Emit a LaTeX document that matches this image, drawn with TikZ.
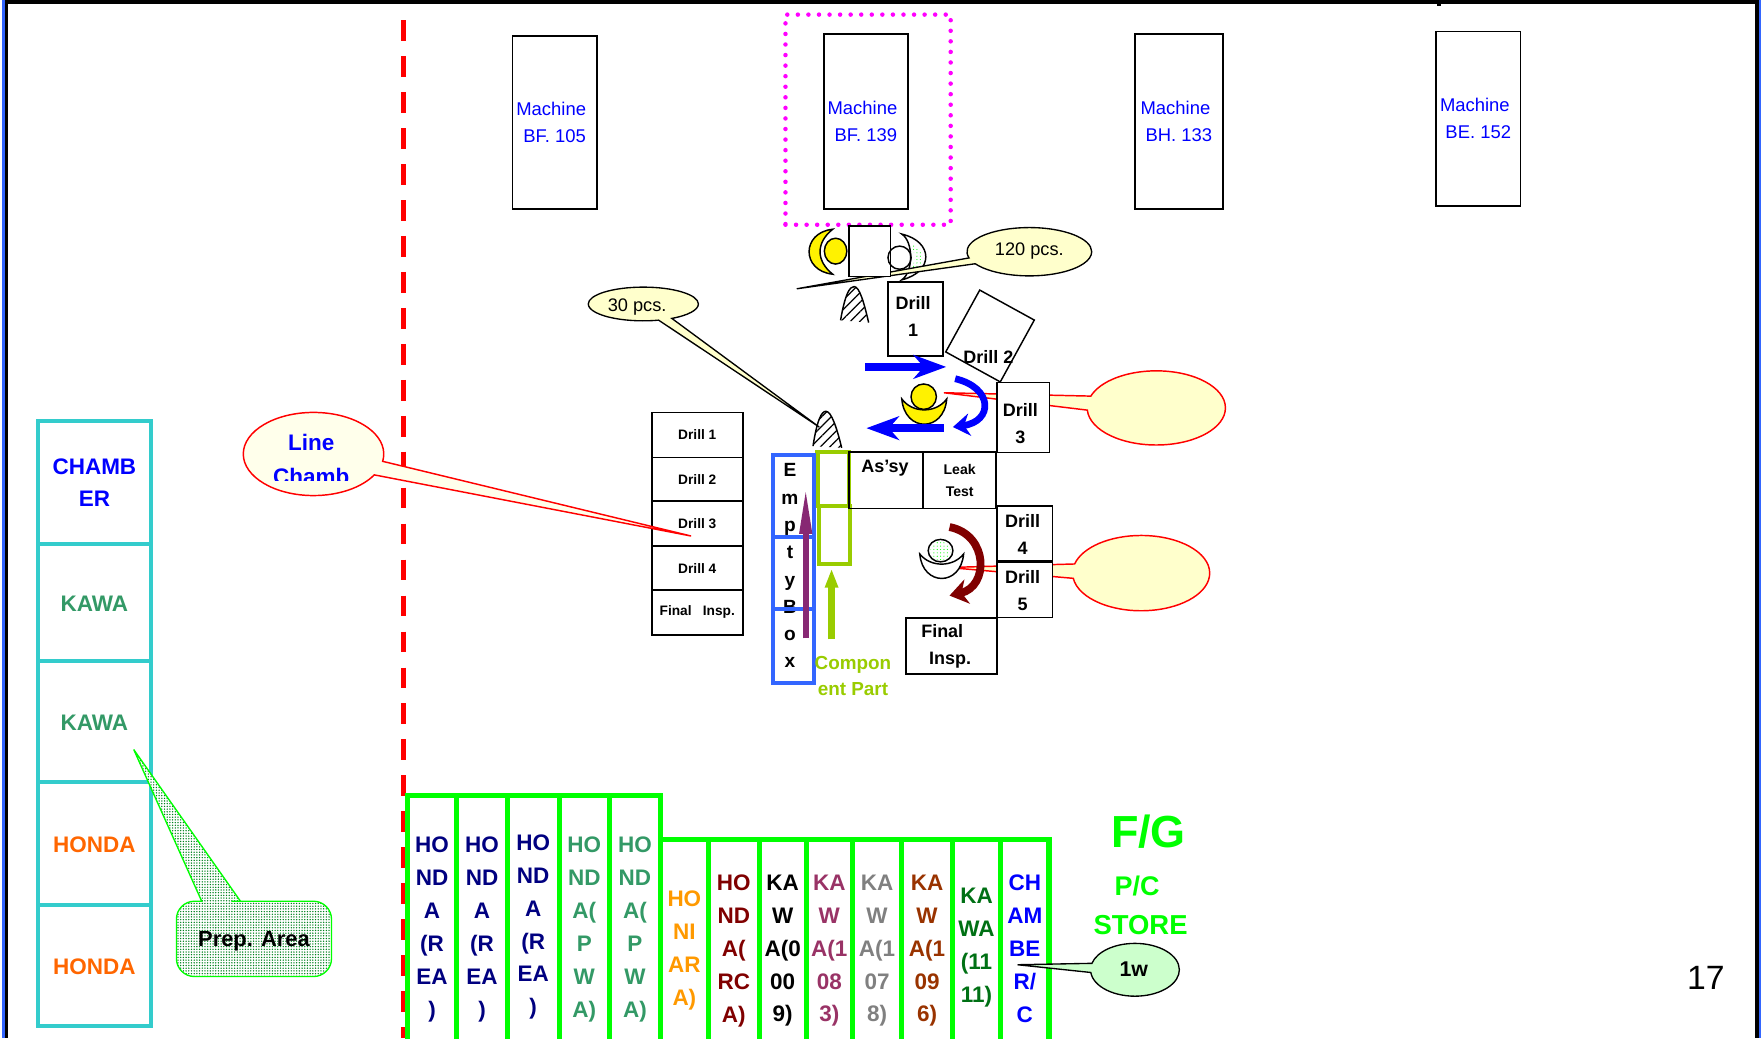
\documentclass[tikz,border=0pt]{standalone}
\usepackage{fontspec}
\setmainfont{Liberation Sans}
\usepackage{xcolor}
\usetikzlibrary{arrows.meta,positioning,calc,patterns,patterns.meta,shapes.callouts}
\definecolor{cblue}{RGB}{0,0,255}
\definecolor{cnavy}{RGB}{0,0,128}
\definecolor{csea}{RGB}{51,153,102}
\definecolor{corange}{RGB}{255,153,0}
\definecolor{chonda}{RGB}{255,102,0}
\definecolor{cmaroon}{RGB}{128,0,0}
\definecolor{cplum}{RGB}{153,51,102}
\definecolor{cgray}{RGB}{128,128,128}
\definecolor{cbrown}{RGB}{153,51,0}
\definecolor{cforest}{RGB}{0,112,20}
\definecolor{ccyan}{RGB}{51,204,204}
\definecolor{cbright}{RGB}{0,255,0}
\definecolor{colive}{RGB}{153,204,0}
\definecolor{cbox}{RGB}{51,102,255}
\definecolor{cred}{RGB}{255,0,0}
\definecolor{cmagenta}{RGB}{255,0,255}
\definecolor{cpale}{RGB}{255,255,204}
\definecolor{cfaint}{RGB}{255,255,235}
\definecolor{cmint}{RGB}{204,255,204}
\definecolor{cprep}{RGB}{0,130,30}
\definecolor{cflow}{RGB}{135,40,115}
\begin{document}
\begin{tikzpicture}[
    x=1pt,
    y=-1pt,
    >=Stealth,
    machine/.style={
        rectangle,
        draw=black,
        line width=1.6pt,
        minimum width=75pt,
        minimum height=155pt,
        inner sep=0pt,
        align=center,
        text=cblue,
        font=\fontsize{16.4}{23.5}\selectfont
    },
    cell/.style={
        rectangle,
        draw=black,
        fill=white,
        line width=1.5pt,
        inner sep=0pt,
        outer sep=0pt,
        align=center,
        font=\fontsize{16}{24}\selectfont\bfseries
    },
    celltext/.style={
        inner sep=0pt,
        align=center,
        font=\fontsize{16}{24}\selectfont\bfseries
    },
    listcell/.style={
        cell,
        minimum width=81pt,
        font=\fontsize{12.2}{14}\selectfont\bfseries
    },
    stackcell/.style={
        rectangle,
        draw=ccyan,
        line width=3.6pt,
        minimum width=100pt,
        inner sep=0pt,
        outer sep=0pt,
        align=center,
        text=#1,
        font=\fontsize{20}{29}\selectfont\bfseries
    },
    stacklabel/.style={
        text height=17pt
    },
    bay/.style={
        rectangle,
        draw=cbright,
        line width=4.5pt,
        anchor=north west,
        inner sep=0pt,
        outer sep=0pt,
        align=center,
        text=#1,
        font=\fontsize{20}{29.3}\selectfont\bfseries
    },
    boxcell/.style={
        rectangle,
        draw=cbox,
        line width=3.6pt,
        minimum width=36pt,
        inner sep=0pt,
        outer sep=0pt
    },
    partcell/.style={
        rectangle,
        draw=colive,
        line width=3.6pt,
        minimum width=28pt,
        inner sep=0pt,
        outer sep=0pt
    },
    pcscallout/.style={
        ellipse callout,
        draw=black,
        fill=cpale,
        line width=1.2pt,
        inner sep=0pt
    },
    pcstext/.style={
        inner sep=0pt,
        font=\fontsize{16.2}{20}\selectfont
    },
    redcallout/.style={
        ellipse callout,
        draw=cred,
        fill=cpale,
        line width=1.3pt,
        inner sep=0pt,
        callout pointer arc=22
    },
    outlined/.style={
        draw=black,
        line width=1.3pt
    },
    bigarr/.style={
        -{Stealth[length=29pt,width=21pt,inset=9pt]},
        line width=7pt,
        draw=cblue
    },
    bluearc/.style={
        -{Stealth[length=15pt,width=20pt,inset=5pt]},
        line width=6pt,
        draw=cblue
    },
    redarc/.style={
        -{Stealth[length=16pt,width=22pt,inset=5pt]},
        line width=7pt,
        draw=cmaroon
    },
    bright/.style={
        text=cbright,
        inner sep=0pt,
        align=center
    },
    hatchcone/.style={
        outlined,
        pattern={Lines[angle=45,distance=6pt,line width=1.1pt]}
    }
]

\clip (0,0) rectangle (1568,924);

% Outer frame
\fill[cbox] (1.8,0) rectangle (4.5,924);
\fill[black] (4.5,0) rectangle (7,924);
\fill[black] (4.5,0) rectangle (1565,3.5);
\fill[black] (1562,0) rectangle (1565,924);
\fill[cbox] (1565,0) rectangle (1567,924);
\fill[black] (1279,3) rectangle (1282,5);

% Boundary line
\coordinate (boundarytop) at (359,18);
\coordinate (boundarybottom) at (359,924);
\draw[cred, line width=4.6pt, dash pattern=on 18.5pt off 13.5pt] (boundarytop) -- (boundarybottom);

% Machines
\node[machine, minimum height=154pt] (machinea) at (493.5,109) {Machine\kern6pt\\BF. 105};
\node[machine, minimum height=156pt] (machineb) at (770.5,108) {Machine\kern6pt\\BF. 139};
\node[machine, minimum width=78pt, minimum height=156pt] (machinec) at (1049,108) {Machine\kern6pt\\BH. 133};
\node[machine, minimum height=155pt] (machined) at (1315.5,105.5) {Machine\kern6pt\\BE. 152};
\node[draw=cmagenta, line width=4pt, dash pattern=on 0pt off 9.4pt, line cap=round, minimum width=147pt, minimum height=187pt, inner sep=0pt] (focus) at (772.5,106.5) {};

% Left stack
\node[stackcell=cblue, minimum height=109pt] (stackchamber) at (84,429.5) {CHAMB\\ER};
\node[stackcell=csea, stacklabel, minimum height=104pt, below=0pt of stackchamber] (stackkawaa) {KAWA};
\node[stackcell=csea, stacklabel, minimum height=108pt, below=0pt of stackkawaa] (stackkawab) {KAWA};
\node[stackcell=chonda, stacklabel, minimum height=109pt, below=0pt of stackkawab] (stackhondaa) {HONDA};
\node[stackcell=chonda, stacklabel, minimum height=108pt, below=0pt of stackhondaa] (stackhondab) {HONDA};

% Prep area callout
\coordinate (preptip) at (119,667);
\filldraw[draw=cbright, line width=1.2pt, preaction={fill=white}, pattern={Dots[distance=2.4pt,radius=0.68pt]}, pattern color=cprep] (preptip) -- (179.5,802) -- (173,802) [rounded corners=16pt] -- (157,802) -- (157,869) -- (295,869) -- (295,802) -- (222,802) [sharp corners] -- (214,802) -- cycle;
\node[inner sep=0pt, font=\fontsize{19.5}{24}\selectfont\bfseries] (prep) at (226,837.5) {Prep. Area};

% Station list
\node[listcell, minimum height=40pt] (lista) at (620.5,387) {Drill 1};
\node[listcell, minimum height=39pt, below=0pt of lista] (listb) {Drill 2};
\node[listcell, minimum height=40pt, below=0pt of listb] (listc) {Drill 3};
\node[listcell, minimum height=39pt, below=0pt of listc] (listd) {Drill 4};
\node[listcell, minimum height=40pt, below=0pt of listd] (liste) {Final\hspace{10pt}Insp.};

% Line callout
\coordinate (linetip) at (615,477);
\node[redcallout, fill=cfaint, callout absolute pointer=(linetip), callout pointer arc=20, minimum width=125pt, minimum height=74pt] (linecallout) at (279,404) {};
\begin{scope}
\clip (217,370) rectangle (342,428);
\node[text=cblue, align=center, inner sep=0pt, font=\fontsize{20}{30}\selectfont\bfseries] (linetext) at (277,409) {Line\\Chamb};
\end{scope}

% Red callouts next to the stations
\coordinate (drilltip) at (840,349.5);
\node[redcallout, callout absolute pointer=(drilltip), minimum width=123pt, minimum height=66pt] (drillcallout) at (1029,363) {};
\coordinate (fivetip) at (844,505);
\node[redcallout, callout absolute pointer=(fivetip), minimum width=122pt, minimum height=67pt] (fivecallout) at (1015.5,510) {};

% Top worker
\filldraw[outlined, fill=yellow] (741,204) .. controls (713,207) and (713,241) .. (741,244) .. controls (726,232) and (726,216) .. cycle;
\filldraw[outlined, fill=yellow] (743.6,223.5) ellipse [x radius=10, y radius=11.5];
\filldraw[outlined, fill=white] (802.5,208.3) .. controls (831,215) and (831,242) .. (802.5,249) .. controls (813,242) and (813,215) .. cycle;
\fill[pattern=dots, pattern color=cbright] (807,216) .. controls (826,220) and (826,238) .. (807,243) .. controls (816,238) and (816,220) .. cycle;
\coordinate (pcstip) at (709,257);
\node[pcscallout, callout absolute pointer=(pcstip), minimum width=111pt, minimum height=43pt] (pcscalloutb) at (916,224) {};
\node[pcstext] (pcstextb) at (916,223) {120 pcs.};
\node[cell, line width=1.3pt, minimum width=37pt, minimum height=45pt] (worktable) at (774,223.5) {};
\draw[outlined] (800.5,229.3) ellipse [radius=10.3];

% Second pcs callout
\coordinate (conetip) at (729,380);
\node[pcscallout, callout absolute pointer=(conetip), minimum width=98pt, minimum height=30pt] (pcscallouta) at (572.5,270.5) {};
\node[pcstext] (pcstexta) at (567,273.5) {30 pcs.};

% Cones
\draw[hatchcone] (748,285) .. controls (752,262) and (756,255) .. (760,255) .. controls (765,255) and (769,270) .. (773,287);
\draw[hatchcone] (723.5,397) .. controls (727,374) and (731,366) .. (735,366) .. controls (740,366) and (745,382) .. (749,398.5);

% Upper stations
\node[cell, minimum width=49pt, minimum height=66pt] (drillone) at (814.5,284) {};
\node[celltext] (drillonetext) at (812.5,282) {Drill\\1};
\node[cell, fill=none, line width=1.3pt, rotate=-28.8, minimum width=55.4pt, minimum height=62.8pt] (drilltwo) at (881,299) {};
\node[celltext] (drilltwotext) at (879.5,318) {Drill 2};
\node[cell, minimum width=47pt, minimum height=62.5pt] (drillthree) at (910.5,371.5) {};
\node[celltext] (drillthreetext) at (908,377) {Drill\\3};

% Component part slots
\node[partcell, minimum height=48pt] (parta) at (741.5,426) {};
\node[partcell, minimum height=52pt, below=0pt of parta, xshift=1.2pt] (partb) {};

% Assembly row
\node[cell, fill=none, minimum width=66pt, minimum height=50pt] (assy) at (788.5,427.5) {};
\node[celltext] (assytext) at (787.5,417) {As's{}y};
\node[cell, font=\fontsize{12.5}{19.5}\selectfont\bfseries, minimum width=65pt, minimum height=50pt] (leak) at (854,427.5) {Leak\\Test};

% Lower stations
\node[cell, minimum width=49pt, minimum height=49pt] (drillfour) at (912,475) {};
\node[celltext] (drillfourtext) at (910,475.5) {Drill\\4};
\node[cell, minimum width=49pt, minimum height=49pt, below=1pt of drillfour] (drillfive) {};
\node[celltext] (drillfivetext) at (910,525.5) {Drill\\5};
\node[cell, minimum width=81pt, minimum height=50pt] (finalinsp) at (847,575) {};
\node[celltext] (finalinsptext) at (845.5,575) {Final\kern14pt\\Insp.};

% Workers beside the stations
\filldraw[outlined, fill=yellow] (822,353) circle [radius=11.3];
\filldraw[outlined, fill=yellow] (802.5,355) .. controls (805,385) and (840,385) .. (842.5,355) .. controls (833,368) and (812,368) .. cycle;
\filldraw[outlined, fill=white] (837,490) ellipse [x radius=11, y radius=10];
\fill[pattern=dots, pattern color=cbright] (837,490) ellipse [x radius=9, y radius=8.5];
\filldraw[outlined, fill=white] (818.5,493) .. controls (821,522) and (855,522) .. (857.5,493) .. controls (848,505) and (828,505) .. cycle;

% Flow arrows
\coordinate (flowa) at (770,326.5);
\coordinate (flowb) at (842,326.5);
\draw[bigarr] (flowa) -- (flowb);
\coordinate (flowc) at (850,337);
\coordinate (flowd) at (848,380);
\draw[bluearc] (flowc) .. controls (884,345) and (884,375) .. (flowd);
\coordinate (flowe) at (840,381);
\coordinate (flowf) at (771,381);
\draw[bigarr] (flowe) -- (flowf);
\coordinate (flowg) at (845,469);
\coordinate (flowh) at (845,530);
\draw[redarc] (flowg) .. controls (880,476) and (880,522) .. (flowh);

% Empty box
\node[text=black, align=center, inner sep=0pt, font=\fontsize{17}{24.3}\selectfont\bfseries] (emptytext) at (703,503.5) {E\\m\\p\\t\\y\\B\\o\\x};
\node[boxcell, minimum height=73pt] (boxa) at (706,441.5) {};
\node[boxcell, minimum height=64pt, below=0pt of boxa] (boxb) {};
\node[boxcell, minimum height=66pt, below=0pt of boxb] (boxc) {};

\coordinate (emptyfrom) at (717,568);
\coordinate (emptyto) at (717,431);
\draw[-{Stealth[length=44pt,width=10pt,inset=0pt]}, line width=5.5pt, draw=cflow] (emptyfrom) -- (emptyto);
\coordinate (partfrom) at (740,569);
\coordinate (partto) at (740,506);
\draw[-{Stealth[length=17pt,width=11pt,inset=0pt]}, line width=6pt, draw=colive] (partfrom) -- (partto);
\node[text=colive, align=center, inner sep=0pt, font=\fontsize{16.8}{23.5}\selectfont\bfseries] (parttext) at (759,601.5) {Compon\\ent Part};

% Finished goods store
\node[bay=cnavy, minimum width=44pt, minimum height=238pt] (baya) at (362.5,708) {HO\\ND\\A\\(R\\EA\\)};
\node[bay=cnavy, minimum width=45pt, minimum height=238pt] (bayb) at (baya.north east) {HO\\ND\\A\\(R\\EA\\)};
\node[bay=cnavy, minimum width=46pt, minimum height=234pt] (bayc) at (bayb.north east) {HO\\ND\\A\\(R\\EA\\)};
\node[bay=csea, minimum width=45pt, minimum height=238pt] (bayd) at (bayc.north east) {HO\\ND\\A(\\P\\W\\A)};
\node[bay=csea, minimum width=45pt, minimum height=238pt] (baye) at (bayd.north east) {HO\\ND\\A(\\P\\W\\A)};
\coordinate (baystep) at (587.5,747);
\node[bay=corange, minimum width=43pt, minimum height=198pt] (bayf) at (baystep) {HO\\NI\\AR\\A)};
\node[bay=cmaroon, minimum width=45pt, minimum height=198pt] (bayg) at (bayf.north east) {HO\\ND\\A(\\RC\\A)};
\node[bay=black, minimum width=42pt, minimum height=198pt] (bayh) at (bayg.north east) {KA\\W\\A(0\\00\\9)};
\node[bay=cplum, minimum width=41pt, minimum height=198pt] (bayi) at (bayh.north east) {KA\\W\\A(1\\08\\3)};
\node[bay=cgray, minimum width=44pt, minimum height=198pt] (bayj) at (bayi.north east) {KA\\W\\A(1\\07\\8)};
\node[bay=cbrown, minimum width=45pt, minimum height=198pt] (bayk) at (bayj.north east) {KA\\W\\A(1\\09\\6)};
\node[bay=cforest, minimum width=43pt, minimum height=192pt] (bayl) at (bayk.north east) {KA\\WA\\(11\\11)};
\node[bay=cblue, minimum width=43pt, minimum height=194pt] (baym) at (bayl.north east) {CH\\AM\\BE\\R/\\C};

\node[bright, font=\fontsize{40}{44}\selectfont\bfseries] (storetitle) at (1022,740) {F/G};
\node[bright, font=\fontsize{24}{30}\selectfont\bfseries] (storepc) at (1012,788) {P/C};
\node[bright, font=\fontsize{24.4}{30}\selectfont\bfseries] (storename) at (1015,823) {STORE};

\coordinate (weektip) at (905.5,858.5);
\node[ellipse callout, draw=black, fill=cmint, line width=1.2pt, callout absolute pointer=(weektip), callout pointer arc=20, minimum width=79pt, minimum height=47pt, inner sep=0pt] (week) at (1010,863) {};
\node[font=\fontsize{19}{22}\selectfont\bfseries, inner sep=0pt] (weektext) at (1009,862) {1w};

% Page number
\node[font=\fontsize{30}{34}\selectfont, inner sep=0pt] (pagenumber) at (1518,870) {17};

\end{tikzpicture}
\end{document}
